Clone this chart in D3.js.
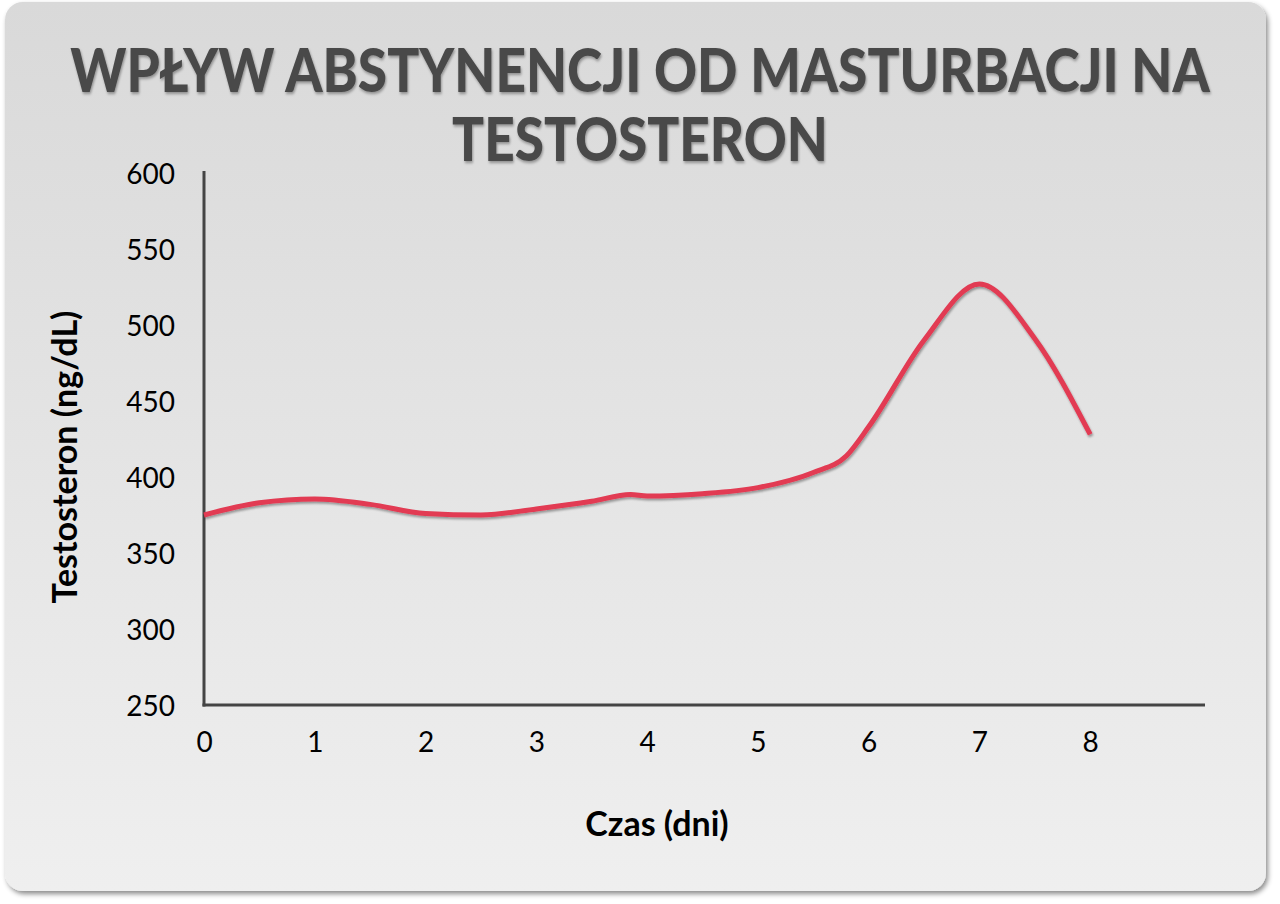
<!DOCTYPE html>
<html>
<head>
<meta charset="utf-8">
<script src="https://cdn.jsdelivr.net/npm/d3@7"></script>
<style>
  html, body { margin: 0; padding: 0; background: #ffffff; }
  svg { display: block; }
</style>
</head>
<body>
<svg id="chart" width="1280" height="904"></svg>
<script>
// ---- data ----
const titleLines = ["WPŁYW ABSTYNENCJI OD MASTURBACJI NA", "TESTOSTERON"];
const titleWidths = [1140, 376];
const xTicks = [0, 1, 2, 3, 4, 5, 6, 7, 8];
const yTicks = [250, 300, 350, 400, 450, 500, 550, 600];
const days = [0, 0.5, 1, 1.5, 2, 2.5, 3, 3.5, 3.85, 4, 4.5, 5, 5.5, 5.8, 6, 6.5, 7, 7.5, 8];
const testosterone = [375, 383, 385.5, 382, 376, 375, 379, 384, 388.5, 387.5, 389, 393, 403, 414, 433, 490, 527, 491, 428];
const xLabel = "Czas (dni)";
const yLabel = "Testosteron (ng/dL)";

const svg = d3.select("#chart");
const defs = svg.append("defs");

const grad = defs.append("linearGradient").attr("id", "bg").attr("x1", 0).attr("y1", 0).attr("x2", 0).attr("y2", 1);
grad.append("stop").attr("offset", "0%").attr("stop-color", "#d9d9d9");
grad.append("stop").attr("offset", "100%").attr("stop-color", "#efefef");

const sh = defs.append("filter").attr("id", "cardShadow").attr("x", "-5%").attr("y", "-5%").attr("width", "110%").attr("height", "110%");
sh.append("feDropShadow").attr("dx", 2).attr("dy", 3).attr("stdDeviation", 2.5).attr("flood-color", "#000").attr("flood-opacity", 0.45);

const tsh = defs.append("filter").attr("id", "textShadow").attr("x", "-5%").attr("y", "-20%").attr("width", "110%").attr("height", "140%");
tsh.append("feDropShadow").attr("dx", 1).attr("dy", 2).attr("stdDeviation", 1.5).attr("flood-color", "#000").attr("flood-opacity", 0.35);

const lsh = defs.append("filter").attr("id", "lineShadow").attr("x", "-5%").attr("y", "-20%").attr("width", "110%").attr("height", "140%");
lsh.append("feDropShadow").attr("dx", 1).attr("dy", 2).attr("stdDeviation", 1.2).attr("flood-color", "#000").attr("flood-opacity", 0.35);

// card
svg.append("rect")
  .attr("x", 5).attr("y", 2).attr("width", 1261).attr("height", 889)
  .attr("rx", 18).attr("ry", 18)
  .attr("fill", "url(#bg)")
  .attr("filter", "url(#cardShadow)");

// title (each line horizontally condensed to the reference width)
const titleG = svg.append("g");
titleLines.forEach((t, i) => {
  const g = titleG.append("g").attr("transform", `translate(640,${92 + i * 69})`);
  const txt = g.append("text")
    .attr("x", 0).attr("y", 0)
    .attr("text-anchor", "middle")
    .attr("font-family", "Lato, sans-serif")
    .attr("font-weight", 900)
    .attr("font-size", 61)
    .attr("fill", "#4a4a4a")
    .attr("filter", "url(#textShadow)")
    .text(t);
  const w = txt.node().getComputedTextLength();
  const s = w > 0 ? titleWidths[i] / w : 1;
  g.attr("transform", `translate(640,${92 + i * 69}) scale(${s},1)`);
});

// scales
const x = d3.scaleLinear().domain([0, 9]).range([204, 1201]);
const y = d3.scaleLinear().domain([250, 600]).range([705, 173]);

// y axis
const yAxis = svg.append("g").attr("transform", "translate(204,0)")
  .call(d3.axisLeft(y).tickValues(yTicks).tickSize(0).tickPadding(29).tickFormat(d3.format("d")));
yAxis.select(".domain").attr("stroke", "#444").attr("stroke-width", 3).attr("d", `M0,${y(600) - 2}V${y(250) + 1.5}`);
yAxis.selectAll("text").attr("font-family", "Lato, sans-serif").attr("font-size", 28).attr("fill", "#000").attr("dy", "0.36em");

// x axis
const xAxis = svg.append("g").attr("transform", "translate(0,705)")
  .call(d3.axisBottom(x).tickValues(xTicks).tickSize(0).tickPadding(27).tickFormat(d3.format("d")));
xAxis.select(".domain").attr("stroke", "#444").attr("stroke-width", 3).attr("d", `M${x(0) - 1.5},0H1205`);
xAxis.selectAll("text").attr("font-family", "Lato, sans-serif").attr("font-size", 28).attr("fill", "#000");

// axis titles
svg.append("text")
  .attr("transform", "translate(77,457) rotate(-90)")
  .attr("text-anchor", "middle")
  .attr("font-family", "Lato, sans-serif")
  .attr("font-weight", 700)
  .attr("font-size", 34)
  .attr("fill", "#000")
  .text(yLabel);

svg.append("text")
  .attr("x", 657).attr("y", 836)
  .attr("text-anchor", "middle")
  .attr("font-family", "Lato, sans-serif")
  .attr("font-weight", 700)
  .attr("font-size", 34)
  .attr("fill", "#000")
  .text(xLabel);

// line
const pts = days.map((d, i) => [d, testosterone[i]]);
const line = d3.line().x(d => x(d[0])).y(d => y(d[1])).curve(d3.curveMonotoneX);
svg.append("path")
  .datum(pts)
  .attr("d", line)
  .attr("fill", "none")
  .attr("stroke", "#e23a52")
  .attr("stroke-width", 5)
  .attr("stroke-linecap", "butt")
  .attr("filter", "url(#lineShadow)");
</script>
</body>
</html>
